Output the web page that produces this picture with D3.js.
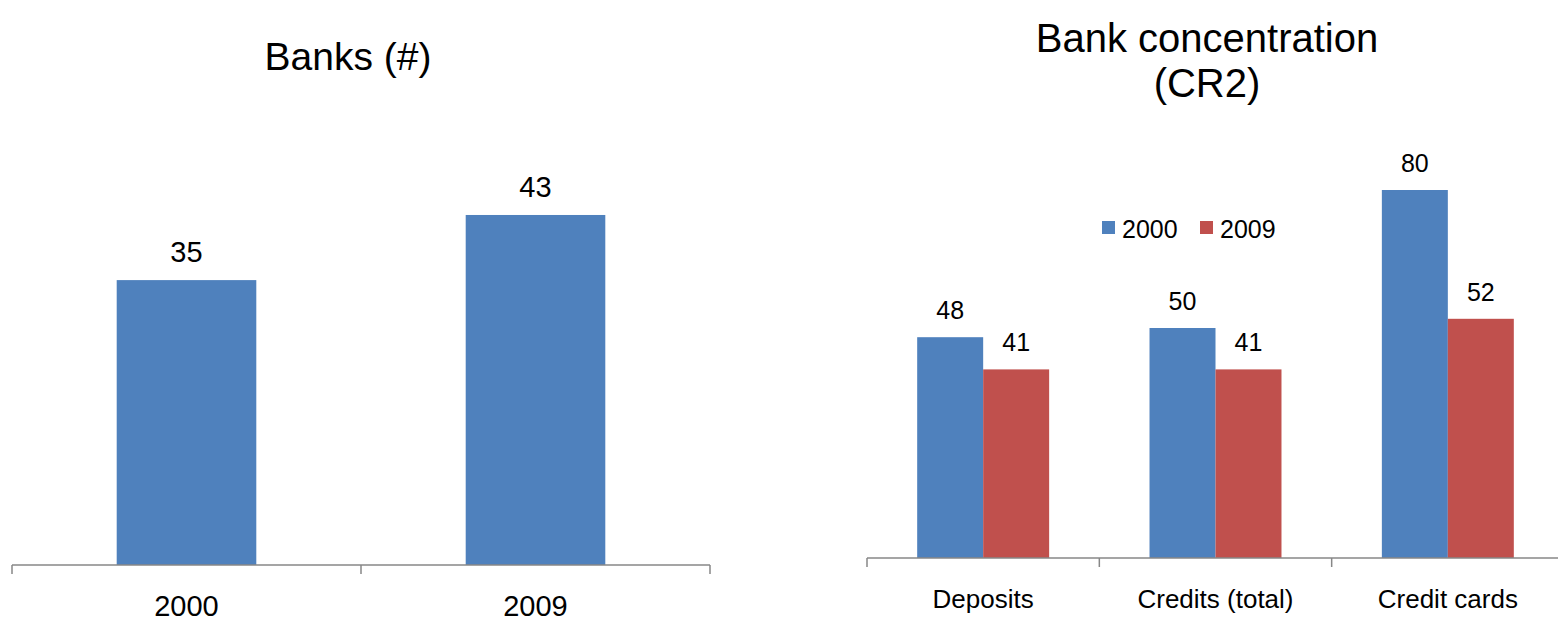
<!DOCTYPE html>
<html>
<head>
<meta charset="utf-8">
<script src="https://cdn.jsdelivr.net/npm/d3@7"></script>
<style>
  html, body { margin: 0; padding: 0; background: #fff; }
  svg text { font-family: "Liberation Sans", Arial, sans-serif; fill: #000; }
</style>
</head>
<body>
<svg id="chart" width="1558" height="623"></svg>
<script>
// Number of banks
const bankYears = ["2000", "2009"];
const bankCounts = [35, 43];

// Concentration ratio of the two largest banks, by market
const concCategories = ["Deposits", "Credits (total)", "Credit cards"];
const concSeries = ["2000", "2009"];
const conc2000 = [48, 50, 80];
const conc2009 = [41, 41, 52];

const blue = "#4F81BD";
const red = "#C0504D";
const axisGrey = "#878787";

const svg = d3.select("#chart");

// ---------- Left panel: Banks (#) ----------
const left = { x0: 12, x1: 710, base: 565 };
const xL = d3.scaleBand().domain(bankYears).range([left.x0, left.x1])
  .paddingInner(0.6).paddingOuter(0.3);
const yL = d3.scaleLinear().domain([0, 50]).range([left.base, left.base - 407]);

svg.append("text").attr("x", 348).attr("y", 70).attr("text-anchor", "middle")
  .style("font-size", "39px").text("Banks (#)");

const gL = svg.append("g");
gL.selectAll("rect").data(bankYears).join("rect")
  .attr("x", d => xL(d)).attr("width", xL.bandwidth())
  .attr("y", (d, i) => yL(bankCounts[i]))
  .attr("height", (d, i) => yL(0) - yL(bankCounts[i]))
  .attr("fill", blue);

gL.selectAll("text.val").data(bankYears).join("text").attr("class", "val")
  .attr("x", d => xL(d) + xL.bandwidth() / 2)
  .attr("y", (d, i) => yL(bankCounts[i]) - 18)
  .attr("text-anchor", "middle").style("font-size", "29px")
  .text((d, i) => bankCounts[i]);

// category axis with ticks at band boundaries
const axL = svg.append("g").attr("transform", `translate(0,${left.base})`);
axL.append("line").attr("x1", left.x0).attr("x2", left.x1).attr("y1", 0).attr("y2", 0)
  .attr("stroke", axisGrey).attr("stroke-width", 1.5);
const tickL = d3.range(bankYears.length + 1).map(i => left.x0 + i * (left.x1 - left.x0) / bankYears.length);
axL.selectAll("line.tk").data(tickL).join("line").attr("class", "tk")
  .attr("x1", d => d).attr("x2", d => d).attr("y1", 0).attr("y2", 9)
  .attr("stroke", axisGrey).attr("stroke-width", 1.5);
axL.selectAll("text").data(bankYears).join("text")
  .attr("x", d => xL(d) + xL.bandwidth() / 2).attr("y", 51)
  .attr("text-anchor", "middle").style("font-size", "29px").text(d => d);

// ---------- Right panel: Bank concentration (CR2) ----------
const right = { x0: 867, x1: 1564, base: 558 };
const xR = d3.scaleBand().domain(concCategories).range([right.x0, right.x1])
  .paddingInner(0.432).paddingOuter(0.216);
const xSub = d3.scaleBand().domain(concSeries).range([0, xR.bandwidth()]);
const yR = d3.scaleLinear().domain([0, 90]).range([right.base, right.base - 414]);
const color = d3.scaleOrdinal().domain(concSeries).range([blue, red]);
const seriesValues = { "2000": conc2000, "2009": conc2009 };

const title = svg.append("text").attr("text-anchor", "middle").style("font-size", "40px");
title.append("tspan").attr("x", 1207).attr("y", 52).text("Bank concentration");
title.append("tspan").attr("x", 1207).attr("y", 97).text("(CR2)");

const rows = [];
concCategories.forEach((c, i) => concSeries.forEach(s => rows.push({ c, s, v: seriesValues[s][i] })));

const gR = svg.append("g");
gR.selectAll("rect").data(rows).join("rect")
  .attr("x", d => xR(d.c) + xSub(d.s)).attr("width", xSub.bandwidth())
  .attr("y", d => yR(d.v)).attr("height", d => yR(0) - yR(d.v))
  .attr("fill", d => color(d.s));
gR.selectAll("text").data(rows).join("text")
  .attr("x", d => xR(d.c) + xSub(d.s) + xSub.bandwidth() / 2)
  .attr("y", d => yR(d.v) - 18)
  .attr("text-anchor", "middle").style("font-size", "25px")
  .text(d => d.v);

const axR = svg.append("g").attr("transform", `translate(0,${right.base})`);
axR.append("line").attr("x1", right.x0).attr("x2", right.x1).attr("y1", 0).attr("y2", 0)
  .attr("stroke", axisGrey).attr("stroke-width", 1.5);
const tickR = d3.range(concCategories.length + 1).map(i => right.x0 + i * (right.x1 - right.x0) / concCategories.length);
axR.selectAll("line.tk").data(tickR).join("line").attr("class", "tk")
  .attr("x1", d => d).attr("x2", d => d).attr("y1", 0).attr("y2", 9)
  .attr("stroke", axisGrey).attr("stroke-width", 1.5);
axR.selectAll("text").data(concCategories).join("text")
  .attr("x", d => xR(d) + xR.bandwidth() / 2).attr("y", 50)
  .attr("text-anchor", "middle").style("font-size", "26px").text(d => d);

// legend
const legendItems = [
  { s: "2000", x: 1102 },
  { s: "2009", x: 1200 }
];
const lg = svg.append("g");
lg.selectAll("rect").data(legendItems).join("rect")
  .attr("x", d => d.x).attr("y", 221).attr("width", 13).attr("height", 13)
  .attr("fill", d => color(d.s));
lg.selectAll("text").data(legendItems).join("text")
  .attr("x", d => d.x + 20).attr("y", 238)
  .style("font-size", "25px").text(d => d.s);
</script>
</body>
</html>
